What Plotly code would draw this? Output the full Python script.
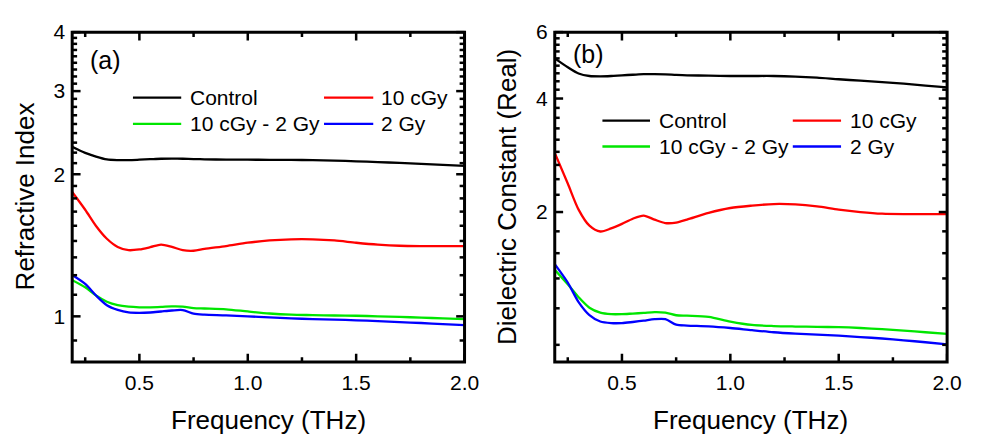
import math
import plotly.graph_objects as go

# Frequency grid (THz)
freq = [0.19, 0.25, 0.30, 0.35, 0.40, 0.45, 0.50, 0.55, 0.60, 0.65, 0.70, 0.75,
        0.80, 0.90, 1.00, 1.10, 1.20, 1.30, 1.40, 1.50, 1.60, 1.70, 1.80, 1.90, 2.00]

series_names = ["Control", "10 cGy", "10 cGy - 2 Gy", "2 Gy"]
series_colors = ["#000000", "#ff0000", "#00e600", "#0000ff"]

# (a) refractive index
n_control = [2.287, 2.22, 2.18, 2.15, 2.143, 2.143, 2.147, 2.152, 2.157, 2.158, 2.157, 2.154,
             2.151, 2.148, 2.147, 2.146, 2.145, 2.142, 2.137, 2.130, 2.122, 2.114, 2.104, 2.094, 2.084]
n_10cgy = [1.834, 1.682, 1.554, 1.46, 1.403, 1.381, 1.386, 1.401, 1.419, 1.403, 1.381, 1.377,
           1.389, 1.409, 1.432, 1.448, 1.456, 1.456, 1.448, 1.432, 1.419, 1.411, 1.409, 1.409, 1.409]
n_10cgy_2gy = [1.193, 1.152, 1.107, 1.074, 1.056, 1.048, 1.045, 1.045, 1.047, 1.050, 1.049, 1.041,
               1.039, 1.035, 1.024, 1.014, 1.008, 1.006, 1.004, 1.003, 1.000, 0.997, 0.994, 0.990, 0.987]
n_2gy = [1.223, 1.171, 1.107, 1.056, 1.032, 1.019, 1.017, 1.019, 1.024, 1.029, 1.031, 1.013,
         1.008, 1.005, 1.000, 0.995, 0.990, 0.987, 0.984, 0.981, 0.977, 0.972, 0.968, 0.963, 0.958]

# (b) dielectric constant, real part
e_control = [5.11, 4.84, 4.66, 4.59, 4.58, 4.59, 4.61, 4.625, 4.64, 4.64, 4.635, 4.62,
             4.61, 4.60, 4.59, 4.59, 4.59, 4.575, 4.545, 4.50, 4.46, 4.42, 4.38, 4.33, 4.28]
e_10cgy = [2.87, 2.38, 2.03, 1.84, 1.776, 1.81, 1.86, 1.92, 1.957, 1.91, 1.87, 1.875,
           1.91, 1.99, 2.05, 2.08, 2.10, 2.095, 2.07, 2.03, 2.00, 1.98, 1.975, 1.975, 1.975]
e_10cgy_2gy = [1.406, 1.287, 1.189, 1.115, 1.082, 1.072, 1.072, 1.076, 1.080, 1.085, 1.082, 1.065,
               1.062, 1.055, 1.025, 1.004, 0.997, 0.994, 0.992, 0.990, 0.985, 0.978, 0.970, 0.960, 0.950]
e_2gy = [1.455, 1.30, 1.154, 1.066, 1.025, 1.015, 1.015, 1.022, 1.030, 1.040, 1.040, 1.005,
         1.000, 0.995, 0.985, 0.972, 0.960, 0.952, 0.946, 0.940, 0.932, 0.924, 0.914, 0.903, 0.891]

x_major = [0.5, 1.0, 1.5, 2.0]
x_labels = ["0.5", "1.0", "1.5", "2.0"]
x_minor = [0.25, 0.75, 1.25, 1.75]

ya_major = [1, 2, 3, 4]
yb_major = [2, 4, 6]

FONT = "Liberation Sans, Arial, sans-serif"
W, H = 989, 436
MAJOR_LEN, MINOR_LEN = 8.5, 5
X_RANGE = (0.19, 2.0)


def log_minor(lo, hi, step, majors):
    vals = []
    k = 1
    while k * step <= hi + 1e-9:
        v = k * step
        if v >= lo and all(abs(v - m) > 1e-6 for m in majors):
            vals.append(round(v, 6))
        k += 1
    return vals


panels = [
    dict(data=[n_control, n_10cgy, n_10cgy_2gy, n_2gy],
         xdom=(73.3, 471.7), ylo=0.8, yhi=4, majors=ya_major, mstep=1 / 9,
         ytitle="Refractive Index", ytitle_x=25, tag="(a)", tag_x=89, tag_y=49,
         leg_rows=(88, 115), leg_cols=((135, 184, 191), (329, 379, 385))),
    dict(data=[e_control, e_10cgy, e_10cgy_2gy, e_2gy],
         xdom=(563.3, 961.7), ylo=0.8, yhi=6, majors=yb_major, mstep=2 / 9,
         ytitle="Dielectric Constant (Real)", ytitle_x=515, tag="(b)", tag_x=580, tag_y=43,
         leg_rows=(111.7, 138.3), leg_cols=((611.7, 660, 666.7), (805, 854, 860.7))),
]

top_px, bot_px = 20.7, 360.0
ydom = [1 - bot_px / H, 1 - top_px / H]
plot_h = bot_px - top_px
fig = go.Figure()
annotations = []
shapes = []
layout = {}

for i, p in enumerate(panels):
    mxs = "x" if i == 0 else "x2"
    mys = "y" if i == 0 else "y2"
    for name, color, vals in zip(series_names, series_colors, p["data"]):
        fig.add_trace(go.Scatter(x=freq, y=vals, mode="lines", name=name,
                                 line=dict(color=color, width=2.3, shape="spline", smoothing=0.8),
                                 xaxis=mxs, yaxis=mys, showlegend=False))
    xdom = [p["xdom"][0] / W, p["xdom"][1] / W]
    plot_w = p["xdom"][1] - p["xdom"][0]
    lg_lo, lg_hi = math.log10(p["ylo"]), math.log10(p["yhi"])
    xk = "xaxis" if i == 0 else "xaxis2"
    yk = "yaxis" if i == 0 else "yaxis2"
    layout[xk] = dict(domain=xdom, range=list(X_RANGE), anchor=mys,
                      showgrid=False, zeroline=False, showline=False, ticks="",
                      tickvals=x_major, ticktext=x_labels, ticklabelstandoff=6,
                      tickfont=dict(family=FONT, size=21, color="black"))
    layout[yk] = dict(domain=ydom, type="log", range=[lg_lo, lg_hi], anchor=mxs,
                      showgrid=False, zeroline=False, showline=False, ticks="",
                      tickvals=p["majors"], ticktext=[str(v) for v in p["majors"]],
                      ticklabelstandoff=6,
                      tickfont=dict(family=FONT, size=21, color="black"))

    # frame
    shapes.append(dict(type="rect", xref=f"{mxs} domain", yref=f"{mys} domain",
                       x0=0, x1=1, y0=0, y1=1, line=dict(color="black", width=3), layer="above"))
    # inward ticks on all four sides
    tick_line = dict(color="black", width=2.5)
    for vals, ln in ((x_major, MAJOR_LEN), (x_minor, MINOR_LEN)):
        f = ln / plot_h
        for v in vals:
            for y0, y1 in ((0, f), (1, 1 - f)):
                shapes.append(dict(type="line", xref=mxs, yref=f"{mys} domain",
                                   x0=v, x1=v, y0=y0, y1=y1, line=tick_line, layer="above"))
    y_minor = log_minor(p["ylo"], p["yhi"], p["mstep"], p["majors"])
    for vals, ln in ((p["majors"], MAJOR_LEN), (y_minor, MINOR_LEN)):
        f = ln / plot_w
        for v in vals:
            fy = (math.log10(v) - lg_lo) / (lg_hi - lg_lo)
            for x0, x1 in ((0, f), (1, 1 - f)):
                shapes.append(dict(type="line", xref=f"{mxs} domain", yref=f"{mys} domain",
                                   x0=x0, x1=x1, y0=fy, y1=fy, line=tick_line, layer="above"))

    # axis titles
    xc = (p["xdom"][0] + p["xdom"][1]) / 2
    annotations.append(dict(text="Frequency (THz)", x=xc / W, y=1 - 420 / H, xref="paper", yref="paper",
                            showarrow=False, xanchor="center", yanchor="middle",
                            font=dict(family=FONT, size=26, color="black")))
    annotations.append(dict(text=p["ytitle"], x=p["ytitle_x"] / W, y=1 - 190 / H, xref="paper",
                            yref="paper", showarrow=False, textangle=-90, xanchor="center",
                            yanchor="middle", font=dict(family=FONT, size=26, color="black")))
    annotations.append(dict(text=p["tag"], x=p["tag_x"] / W, y=1 - p["tag_y"] / H, xref="paper",
                            yref="paper", showarrow=False, xanchor="left", yanchor="middle",
                            font=dict(family=FONT, size=25, color="black")))
    # two-column legend
    for j, (name, color) in enumerate(zip(series_names, series_colors)):
        row_y = p["leg_rows"][j // 2]
        x0, x1, xt = p["leg_cols"][j % 2]
        shapes.append(dict(type="line", xref="paper", yref="paper",
                           x0=x0 / W, x1=x1 / W, y0=1 - row_y / H, y1=1 - row_y / H,
                           line=dict(color=color, width=2.3)))
        annotations.append(dict(text=name, x=xt / W, y=1 - row_y / H, xref="paper", yref="paper",
                                showarrow=False, xanchor="left", yanchor="middle",
                                font=dict(family=FONT, size=21, color="black")))

fig.update_layout(**layout)
fig.update_layout(width=W, height=H, margin=dict(l=0, r=0, t=0, b=0),
                  paper_bgcolor="white", plot_bgcolor="white",
                  annotations=annotations, shapes=shapes, showlegend=False)

fig.write_html("out.html")
